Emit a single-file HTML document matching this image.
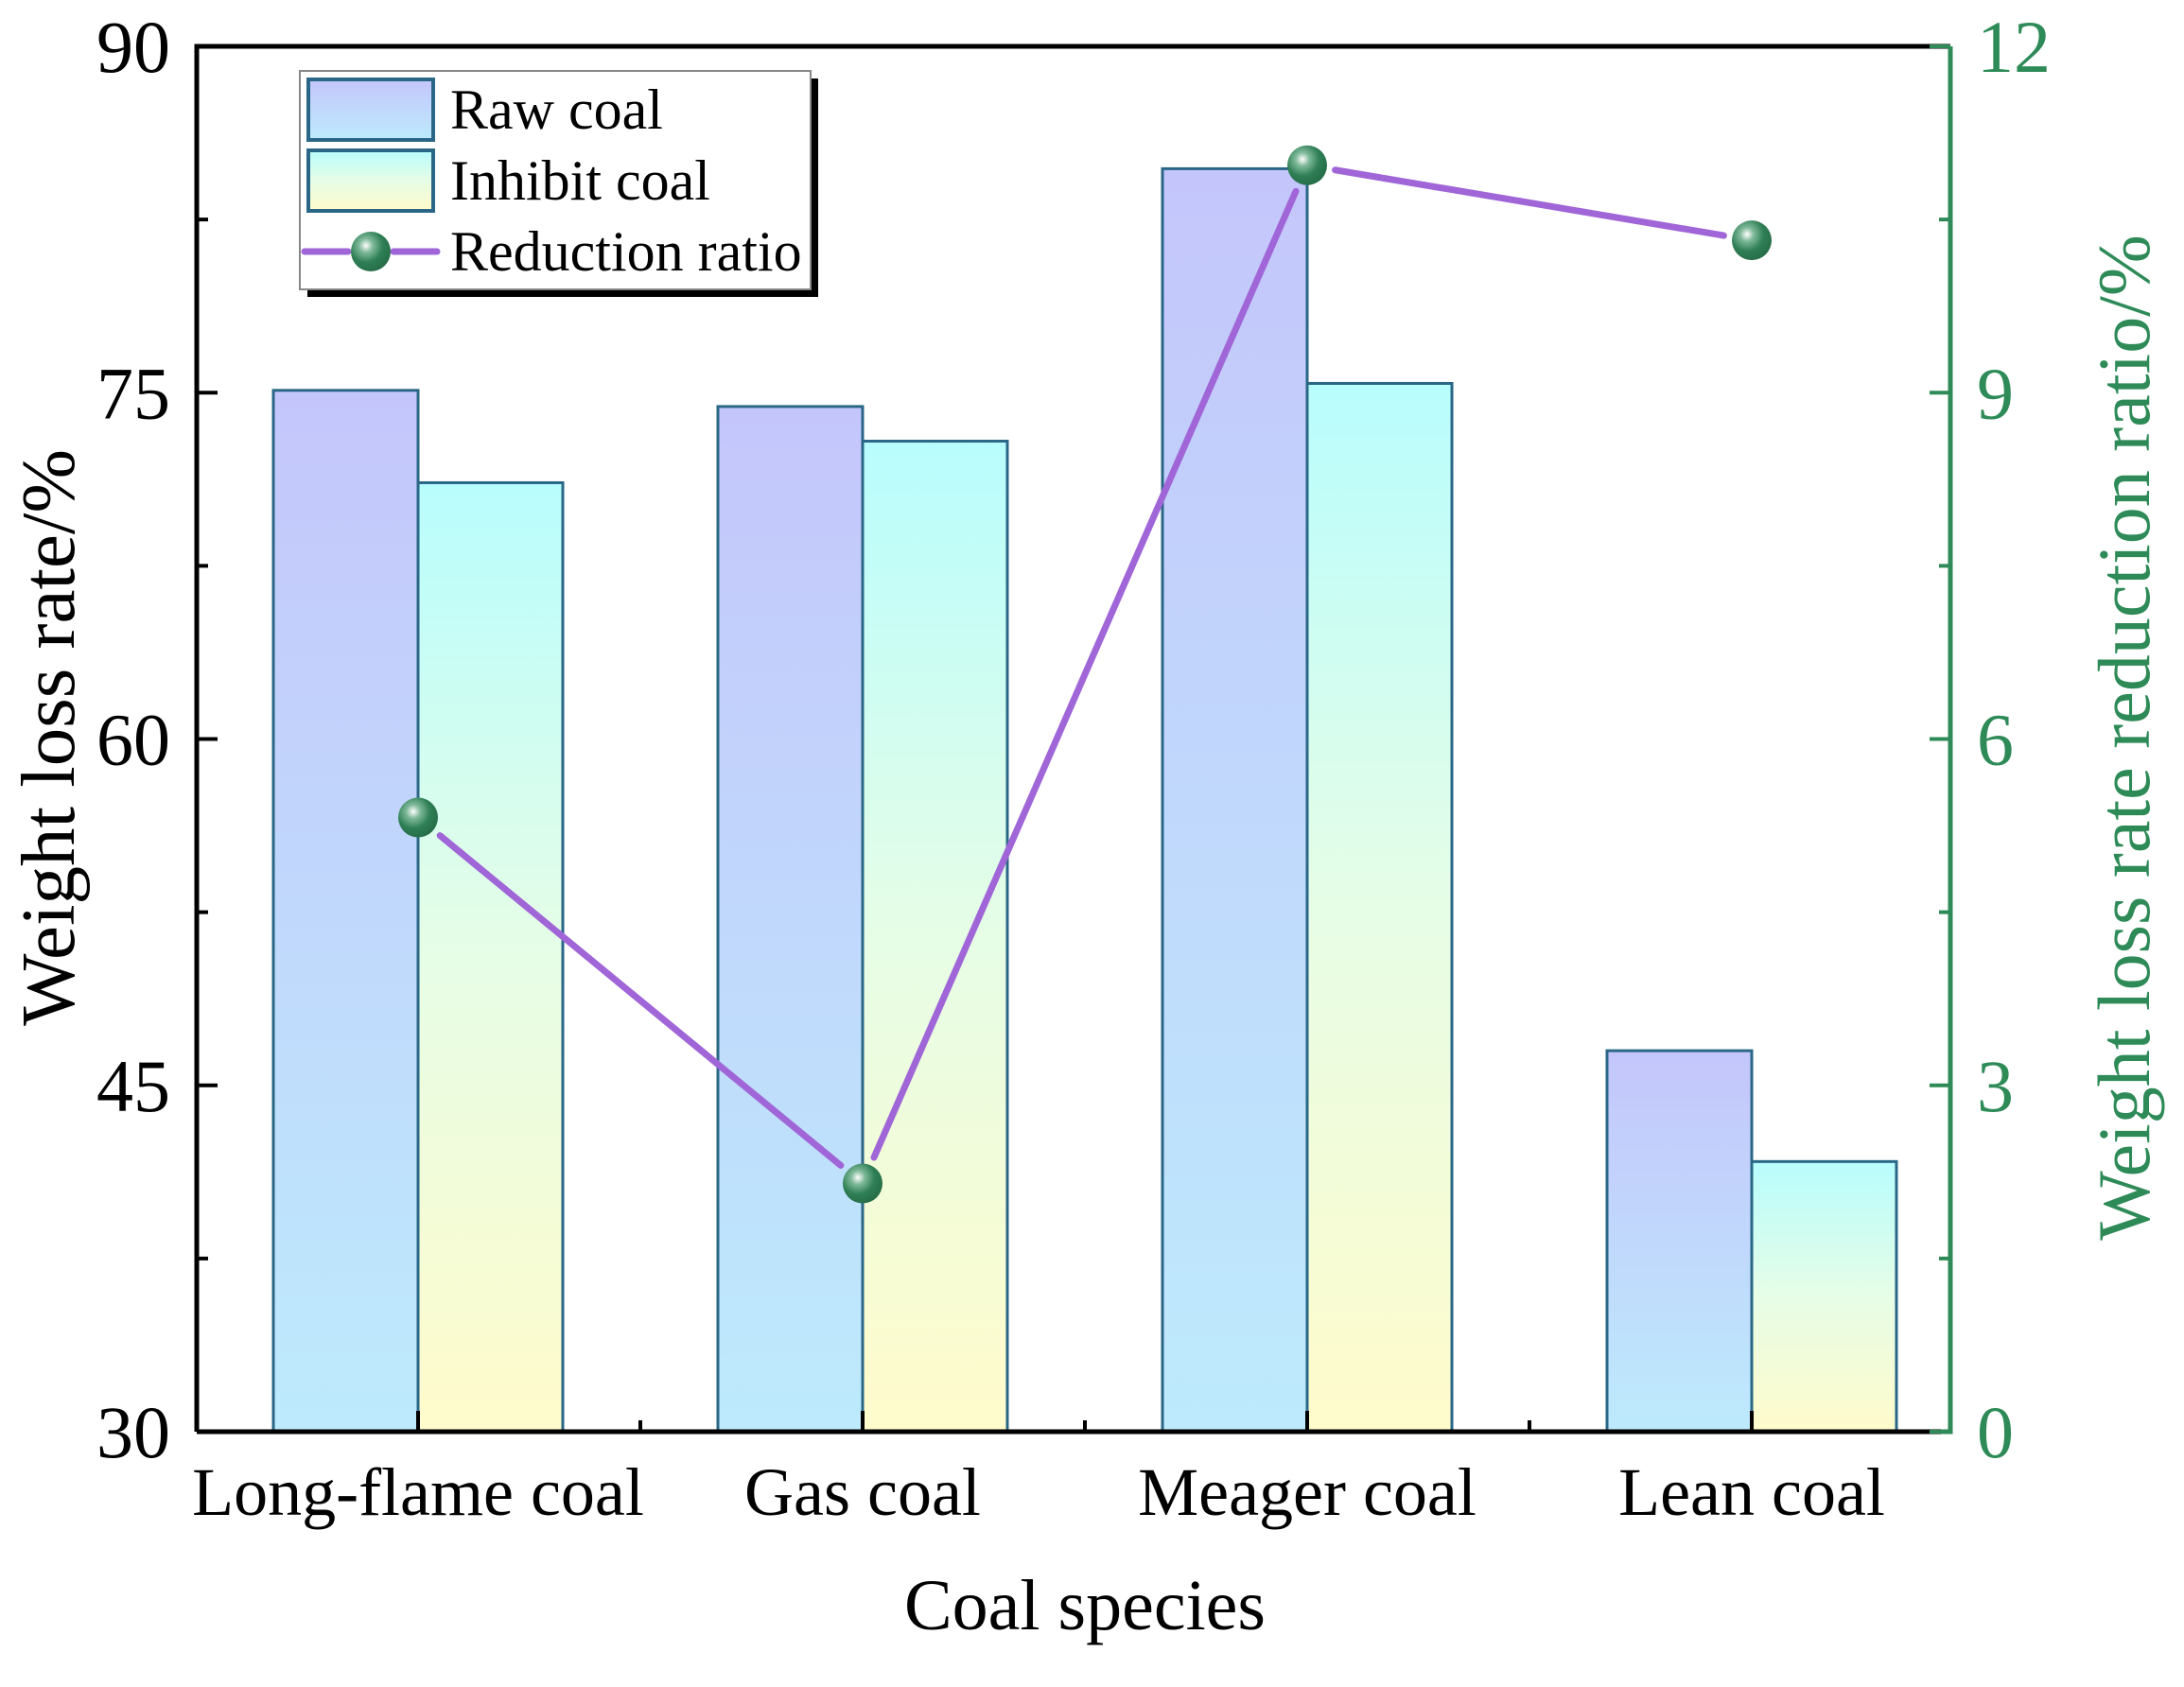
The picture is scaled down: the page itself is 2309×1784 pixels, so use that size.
<!DOCTYPE html>
<html><head><meta charset="utf-8"><style>
html,body{margin:0;padding:0;background:#fff;}
svg{display:block;font-family:"Liberation Serif",serif;}
</style></head><body>
<svg id="chart" width="2309" height="1784" viewBox="0 0 2309 1784">
<defs>
<linearGradient id="gRaw" x1="0" y1="0" x2="0" y2="1"><stop offset="0" stop-color="#c4c6fb"/><stop offset="1" stop-color="#bdeafc"/></linearGradient>
<linearGradient id="gInh" x1="0" y1="0" x2="0" y2="1"><stop offset="0" stop-color="#b8fdfd"/><stop offset="0.5" stop-color="#e6fde6"/><stop offset="1" stop-color="#fffbcb"/></linearGradient>
<radialGradient id="gBall" cx="0.38" cy="0.35" r="0.7"><stop offset="0" stop-color="#ffffff"/><stop offset="0.25" stop-color="#7fb99a"/><stop offset="0.6" stop-color="#2f7f55"/><stop offset="1" stop-color="#256b47"/></radialGradient>
</defs>
<g id="bars"></g>
<g id="line"></g>
<g id="axes"></g>
<g id="legend">
<rect x="325" y="83" width="540" height="231" fill="#000"/>
<rect x="317" y="75" width="540" height="231" fill="#fff" stroke="#888" stroke-width="2"/>
<rect x="326" y="84" width="132" height="64" fill="url(#gRaw)" stroke="#2a6787" stroke-width="4"/>
<text x="476" y="136" font-size="60">Raw coal</text>
<rect x="326" y="159" width="132" height="64" fill="url(#gInh)" stroke="#2a6787" stroke-width="4"/>
<text x="476" y="211" font-size="60">Inhibit coal</text>
<line x1="322" y1="266" x2="368" y2="266" stroke="#a066d8" stroke-width="7" stroke-linecap="round"/>
<line x1="416" y1="266" x2="462" y2="266" stroke="#a066d8" stroke-width="7" stroke-linecap="round"/>
<circle cx="392" cy="266" r="21" fill="url(#gBall)"/>
<text x="476" y="286" font-size="60">Reduction ratio</text>
</g>
</svg>
<script>
const categories = ["Long-flame coal","Gas coal","Meager coal","Lean coal"];
const rawValues = [75.1, 74.4, 84.7, 46.5];
const inhibitValues = [71.1, 72.9, 75.4, 41.7];
const ratioValues = [5.32, 2.15, 10.97, 10.32];
const leftTicks = [30,45,60,75,90];
const rightTicks = [0,3,6,9,12];

const NS="http://www.w3.org/2000/svg";
const L=208,R=2062,T=49,B=1514;
const gw=470, x0=442, bw=153;
function yL(v){return B-(v-30)/60*(B-T);}
function yR(v){return B-v/12*(B-T);}
function xC(i){return x0+gw*i;}
function mk(tag,attrs,parent){const e=document.createElementNS(NS,tag);for(const k in attrs)e.setAttribute(k,attrs[k]);parent.appendChild(e);return e;}
const bars=document.getElementById('bars'),line=document.getElementById('line'),axes=document.getElementById('axes');

categories.forEach((c,i)=>{
  let r=mk('rect',{x:xC(i)-bw,y:yL(rawValues[i]),width:bw,height:B-yL(rawValues[i]),fill:'url(#gRaw)',stroke:'#2a6787','stroke-width':3},bars);
  
  
  let h=mk('rect',{x:xC(i),y:yL(inhibitValues[i]),width:bw,height:B-yL(inhibitValues[i]),fill:'url(#gInh)',stroke:'#2a6787','stroke-width':3},bars);
  
  
});
for(let i=0;i<ratioValues.length-1;i++){
  const x1=xC(i),y1=yR(ratioValues[i]),x2=xC(i+1),y2=yR(ratioValues[i+1]);
  const d=Math.hypot(x2-x1,y2-y1),g=30,ux=(x2-x1)/d,uy=(y2-y1)/d;
  let s=mk('line',{x1:x1+ux*g,y1:y1+uy*g,x2:x2-ux*g,y2:y2-uy*g,stroke:'#a066d8','stroke-width':7,'stroke-linecap':'round'},line);
  
  
}
ratioValues.forEach((v,i)=>{
  let c=mk('circle',{cx:xC(i),cy:yR(v),r:21,fill:'url(#gBall)'},line);
  
  
});
let f=mk('path',{d:`M${L},${B} L${L},${T} L${R},${T}`,fill:'none',stroke:'#000','stroke-width':5},axes);


let bx=mk('line',{x1:L,y1:B,x2:R-10,y2:B,stroke:'#000','stroke-width':5},axes);


let ra=mk('path',{d:`M${R-10},${B} L${R},${B} L${R},${T}`,fill:'none',stroke:'#2e8b57','stroke-width':5},axes);


leftTicks.forEach((v,i)=>{
  const y=yL(v);
  mk('line',{x1:L,y1:y,x2:L+22,y2:y,stroke:'#000','stroke-width':4},axes);
  if(i<leftTicks.length-1) mk('line',{x1:L,y1:yL(v+7.5),x2:L+12,y2:yL(v+7.5),stroke:'#000','stroke-width':4},axes);
  let t=mk('text',{x:180,y:y+27,'font-size':78,'text-anchor':'end'},axes);
  t.textContent=v;
  
  
});
rightTicks.forEach((v,i)=>{
  const y=yR(v);
  mk('line',{x1:R,y1:y,x2:R-22,y2:y,stroke:'#2e8b57','stroke-width':4},axes);
  if(i<rightTicks.length-1) mk('line',{x1:R,y1:yR(v+1.5),x2:R-12,y2:yR(v+1.5),stroke:'#2e8b57','stroke-width':4},axes);
  let t=mk('text',{x:2090,y:y+27,'font-size':78,fill:'#2e8b57'},axes);
  t.textContent=v;
  
  
});
categories.forEach((c,i)=>{
  if(i>0) mk('line',{x1:xC(i)-gw/2,y1:B,x2:xC(i)-gw/2,y2:B-12,stroke:'#000','stroke-width':4},axes);
  mk('line',{x1:xC(i),y1:B,x2:xC(i),y2:B-22,stroke:'#000','stroke-width':4},axes);
  let t=mk('text',{x:xC(i),y:1602,'font-size':72,'text-anchor':'middle'},axes);
  t.textContent=c;
  
  
});
let xt=mk('text',{x:1147,y:1723,'font-size':76,'text-anchor':'middle'},axes);
xt.textContent='Coal species';


let yt=mk('text',{x:0,y:0,'font-size':81,'text-anchor':'middle',transform:'translate(78,780) rotate(-90)'},axes);
yt.textContent='Weight loss rate/%';


let yt2=mk('text',{x:0,y:0,'font-size':78,'text-anchor':'middle',fill:'#2e8b57',transform:'translate(2272,780) rotate(-90)'},axes);
yt2.textContent='Weight loss rate reduction ratio/%';


</script>
</body></html>
